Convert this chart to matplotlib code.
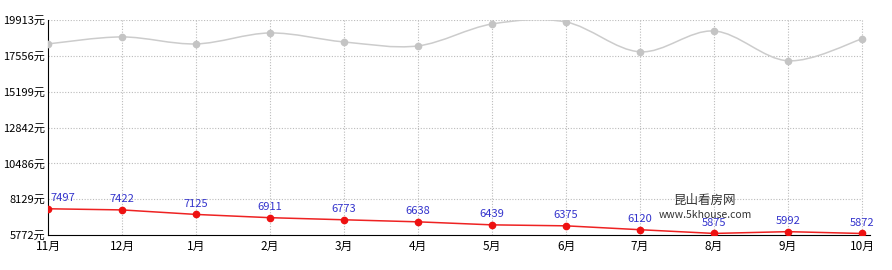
import matplotlib
matplotlib.use('Agg')
from matplotlib import pyplot as plt
from matplotlib.path import Path
from matplotlib.patches import PathPatch
import numpy as np

plt.rcParams['font.family'] = ['Noto Sans CJK SC', 'DejaVu Sans']

months = ['11月', '12月', '1月', '2月', '3月', '4月', '5月', '6月', '7月', '8月', '9月', '10月']
gray_values = [18340, 18800, 18340, 19060, 18470, 18210, 19650, 19780, 17820, 19190, 17230, 18670]
red_values = [7497, 7422, 7125, 6911, 6773, 6638, 6439, 6375, 6120, 5875, 5992, 5872]
y_ticks = [5772, 8129, 10486, 12842, 15199, 17556, 19913]


def smooth_path(xs, ys):
    # catmull-rom -> cubic bezier segments
    pts = list(zip(xs, ys))
    verts = [pts[0]]
    codes = [Path.MOVETO]
    for i in range(len(pts) - 1):
        p0 = pts[i - 1] if i > 0 else pts[i]
        p1 = pts[i]
        p2 = pts[i + 1]
        p3 = pts[i + 2] if i + 2 < len(pts) else pts[i + 1]
        c1 = (p1[0] + (p2[0] - p0[0]) / 6, p1[1] + (p2[1] - p0[1]) / 6)
        c2 = (p2[0] - (p3[0] - p1[0]) / 6, p2[1] - (p3[1] - p1[1]) / 6)
        verts += [c1, c2, p2]
        codes += [Path.CURVE4] * 3
    return Path(verts, codes)


fig = plt.figure(figsize=(8.92, 2.70), dpi=100)
ax = fig.add_axes([48 / 892, 35 / 270, 822 / 892, 215 / 270])

x = np.arange(len(months))

ax.add_patch(PathPatch(smooth_path(x, gray_values), fill=False, edgecolor='#cccccc', lw=1.1, zorder=3))
ax.plot(x, gray_values, 'o', color='#c4c4c4', ms=4.5, zorder=4)

ax.plot(x, red_values, '-', color='#ee2222', lw=1.1, zorder=3)
ax.plot(x, red_values, 'o', color='#ee1111', ms=4.5, zorder=4)

for i, v in enumerate(red_values):
    ha = 'left' if i == 0 else 'center'
    dx = 1.5 if i == 0 else 0
    ax.annotate(str(v), (x[i], v), xytext=(dx, 4), textcoords='offset points',
                ha=ha, va='bottom', fontsize=8, color='#3333cc', zorder=5)

ax.set_xlim(0, 11 + 8 / 74)
ax.set_ylim(5772, 19913)
ax.set_xticks(x)
ax.set_xticklabels(months, fontsize=8.5)
ax.set_yticks(y_ticks)
ax.set_yticklabels([f'{t}元' for t in y_ticks], fontsize=8)
ax.tick_params(axis='y', length=0, pad=2)
ax.tick_params(axis='x', length=0, pad=3.5)

ax.vlines(x[1:], 5772, 19913, color='#bbbbbb', lw=0.8, ls=(0, (1, 1.5)), zorder=1)
ax.hlines(y_ticks[1:], 0, 11, color='#bbbbbb', lw=0.8, ls=(0, (1, 1.5)), zorder=1)

ax.spines['top'].set_visible(False)
ax.spines['right'].set_visible(False)
ax.spines['left'].set_color('black')
ax.spines['bottom'].set_color('black')

fig.text(705 / 892, 1 - 200 / 270, '昆山看房网', ha='center', va='center', fontsize=9, color='#333333')
fig.text(705 / 892, 1 - 215 / 270, 'www.5khouse.com', ha='center', va='center', fontsize=7.5, color='#333333')

fig.savefig('out.png', dpi=100)
